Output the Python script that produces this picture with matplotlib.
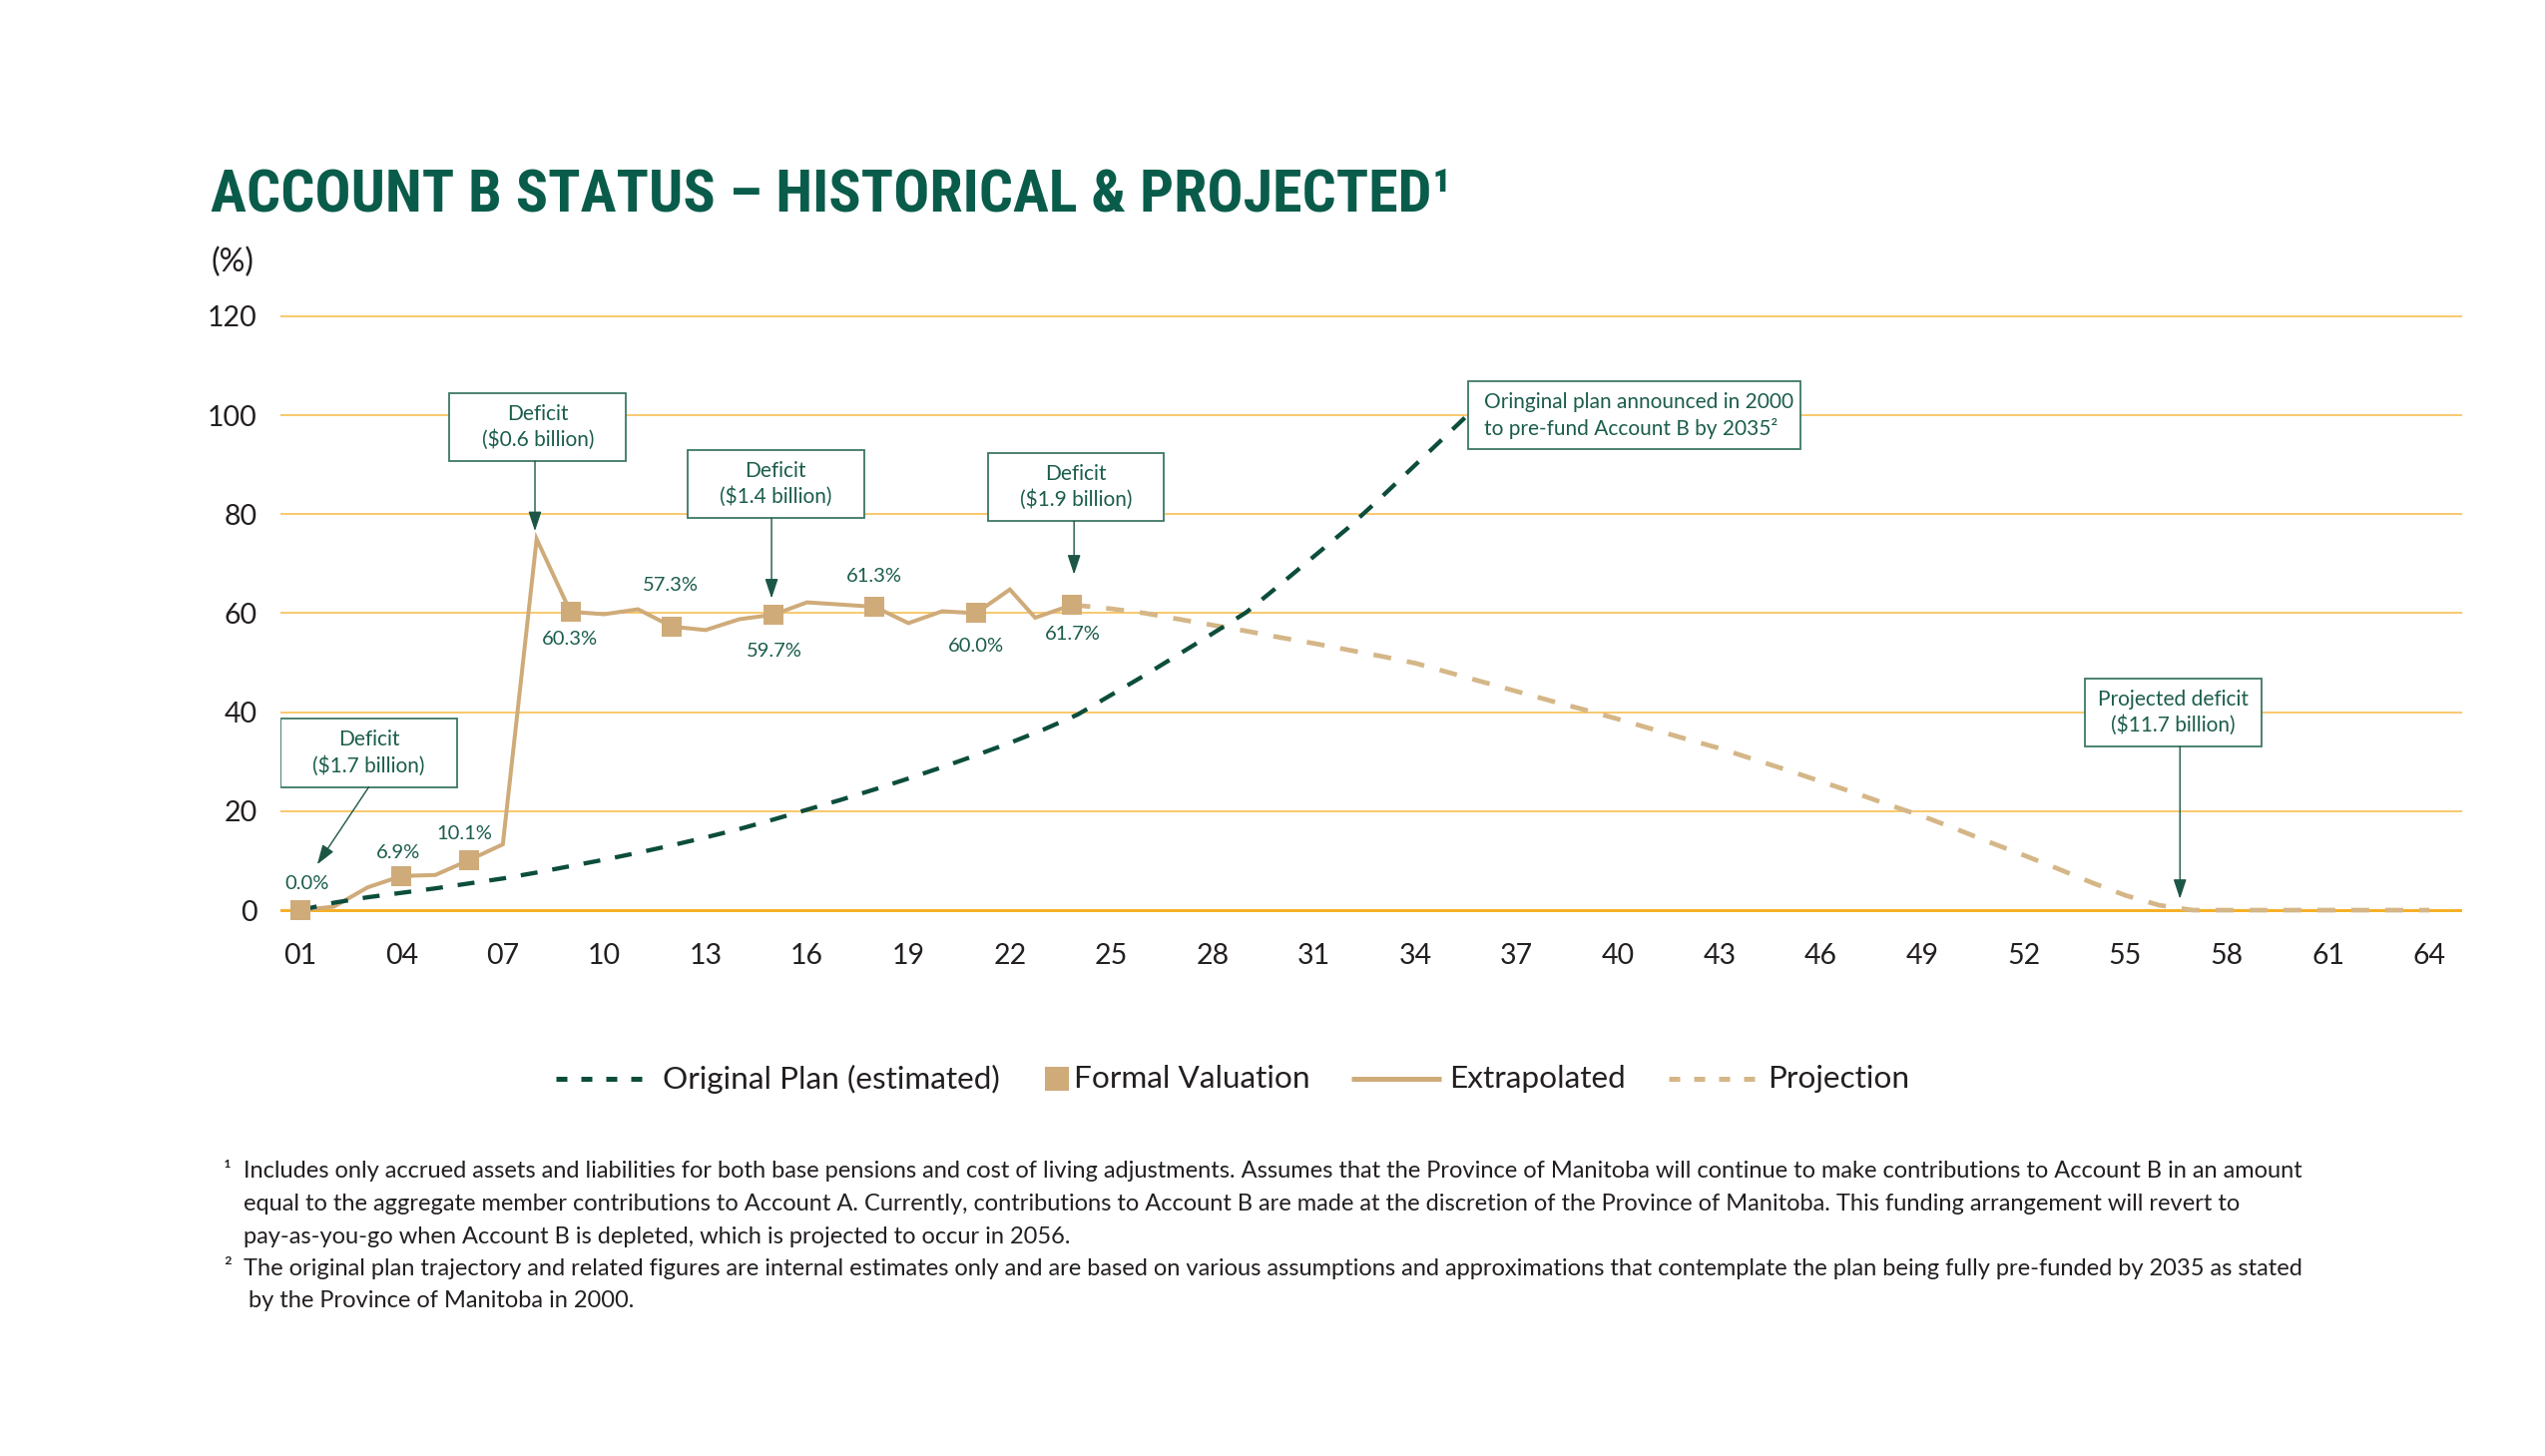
import matplotlib
matplotlib.use("Agg")
import matplotlib.pyplot as plt
from matplotlib.patches import Rectangle
from matplotlib.lines import Line2D
from matplotlib.font_manager import FontProperties, findfont, fontManager

# ---------------- data ----------------
x_ticks = [1, 4, 7, 10, 13, 16, 19, 22, 25, 28, 31, 34, 37, 40, 43, 46, 49, 52, 55, 58, 61, 64]
x_tick_labels = ["01", "04", "07", "10", "13", "16", "19", "22", "25", "28", "31",
                 "34", "37", "40", "43", "46", "49", "52", "55", "58", "61", "64"]
y_ticks = [0, 20, 40, 60, 80, 100, 120]
y_tick_labels = ["0", "20", "40", "60", "80", "100", "120"]

plan_years = [1, 2, 3, 4, 5, 6, 7, 8, 9, 10, 11, 12, 13, 14, 15, 16, 17, 18,
              19, 20, 21, 22, 23, 24, 25, 26, 27, 28, 29, 30, 31, 32, 33, 34, 35, 36]
plan_values = [0.0, 1.5, 2.6, 3.5, 4.4, 5.4, 6.4, 7.6, 8.9, 10.2, 11.6, 13.1, 14.7, 16.4,
               18.3, 20.3, 22.3, 24.4, 26.6, 28.9, 31.3, 33.8, 36.5, 39.5, 43.5, 47.5,
               51.7, 55.9, 60.2, 65.8, 71.5, 77.2, 83.5, 90.0, 96.5, 103.0]

extrap_years = [1, 2, 3, 4, 5, 6, 7, 8, 9, 10, 11, 12, 13, 14, 15, 16, 18, 19, 20, 21,
                22, 22.75, 23.85]
extrap_values = [0.0, 0.7, 4.6, 6.9, 7.1, 10.1, 13.3, 75.0, 60.3, 59.8, 60.8, 57.3, 56.6,
                 58.8, 59.7, 62.2, 61.3, 58.0, 60.4, 60.0, 64.8, 59.1, 61.7]

valuation_years = [1, 4, 6, 9, 12, 15, 18, 21, 23.85]
valuation_values = [0.0, 6.9, 10.1, 60.3, 57.3, 59.7, 61.3, 60.0, 61.7]

proj_years = [23.85, 25, 26, 27, 28, 29, 30, 31, 32, 33, 34, 35, 36, 37, 38, 39, 40, 41,
              42, 43, 44, 45, 46, 47, 48, 49, 50, 51, 52, 53, 54, 55, 56, 57, 58, 59,
              60, 61, 62, 63, 64]
proj_values = [61.7, 60.9, 60.0, 58.8, 57.6, 56.4, 55.1, 53.9, 52.6, 51.3, 49.9, 48.0,
               46.1, 44.2, 42.3, 40.5, 38.6, 36.6, 34.6, 32.7, 30.5, 28.3, 26.0, 23.7,
               21.3, 19.0, 16.4, 13.7, 11.1, 8.4, 5.6, 3.0, 1.0, 0.0, 0.0, 0.0, 0.0,
               0.0, 0.0, 0.0, 0.0]

callout_texts = ["Deficit\n($1.7 billion)", "Deficit\n($0.6 billion)",
                 "Deficit\n($1.4 billion)", "Deficit\n($1.9 billion)",
                 "Projected deficit\n($11.7 billion)"]
plan_note = "Oringinal plan announced in 2000\nto pre-fund Account B by 2035\u00b2"

legend_labels = ["Original Plan (estimated)", "Formal Valuation", "Extrapolated", "Projection"]

title_text = "ACCOUNT B STATUS \u2013 HISTORICAL & PROJECTED\u00b9"
footnote_lines = [
    "Includes only accrued assets and liabilities for both base pensions and cost of living adjustments. Assumes that the Province of Manitoba will continue to make contributions to Account B in an amount",
    "equal to the aggregate member contributions to Account A. Currently, contributions to Account B are made at the discretion of the Province of Manitoba. This funding arrangement will revert to",
    "pay-as-you-go when Account B is depleted, which is projected to occur in 2056.",
    "The original plan trajectory and related figures are internal estimates only and are based on various assumptions and approximations that contemplate the plan being fully pre-funded by 2035 as stated",
    "by the Province of Manitoba in 2000.",
]

# ---------------- style ----------------
W, H, DPI = 2550, 1459, 100
PT = DPI / 72.0  # px per point

GREEN = "#0c4d3c"
TITLE_GREEN = "#0a5c4a"
LABEL_GREEN = "#1b5d4c"
BOX_EDGE = "#3d7766"
ARROW = "#1c5646"
TAN = "#cfab7a"
TAN_PROJ = "#d5b687"
GRID = "#f8c86e"
ZERO = "#f6ae22"
INK = "#231f20"


def has_font(name):
    try:
        findfont(FontProperties(family=name), fallback_to_default=False)
        return True
    except Exception:
        return False


def condensed_bold_font():
    """Look for an installed condensed / narrow bold sans face for the title."""
    prefs = ["Roboto Condensed", "Liberation Sans Narrow", "DejaVu Sans",
             "Open Sans Condensed", "Noto Sans"]
    cands = []
    for f in fontManager.ttflist:
        narrow = ("Condensed" in f.name or "Narrow" in f.name
                  or str(f.stretch) in ("condensed", "semi-condensed", "extra-condensed")
                  or "Condensed" in f.fname or "Narrow" in f.fname)
        try:
            wt = int(f.weight)
        except Exception:
            wt = 700 if "bold" in str(f.weight).lower() else 400
        if narrow and wt >= 600 and f.style == "normal" and "Mono" not in f.name \
                and "Serif" not in f.name:
            rank = next((i for i, p in enumerate(prefs) if p in f.name), len(prefs))
            cands.append((rank, abs(wt - 700), f.fname))
    if cands:
        cands.sort()
        return FontProperties(fname=cands[0][2])
    fam = ["Liberation Sans Narrow", "DejaVu Sans"] if has_font("Liberation Sans Narrow") \
        else ["DejaVu Sans"]
    return FontProperties(family=fam, weight="bold")


BODY = ["Lato", "DejaVu Sans"] if has_font("Lato") else ["DejaVu Sans"]
plt.rcParams["font.family"] = BODY
title_fp = condensed_bold_font()

fig = plt.figure(figsize=(W / DPI, H / DPI), dpi=DPI, facecolor="white")
renderer = fig.canvas.get_renderer()


def fx(px):
    return px / W


def fy(py):
    return 1 - py / H


def fit(t, target_px):
    w = t.get_window_extent(renderer).width
    t.set_fontsize(t.get_fontsize() * target_px / w)
    return t.get_fontsize()


# axes: x 281..2467 px, y 312..926.9 px
ax = fig.add_axes([fx(281), fy(926.9), (2467 - 281) / W, (926.9 - 312.0) / H])
ax.set_xlim(0.42, 64.97)
ax.set_ylim(-3, 121)
for s in ax.spines.values():
    s.set_visible(False)
ax.set_xticks(x_ticks)
ax.set_xticklabels(x_tick_labels)
ax.set_yticks(y_ticks)
ax.set_yticklabels(y_tick_labels)
ax.tick_params(axis="both", length=0, labelsize=20.5, labelcolor=INK)
ax.tick_params(axis="x", pad=13)
ax.tick_params(axis="y", pad=17)
for v in y_ticks:
    if v == 0:
        ax.axhline(v, color=ZERO, lw=2.1, zorder=1.2)
    else:
        ax.axhline(v, color=GRID, lw=1.4, zorder=1)

# series
lw_plan = 4.3
ax.plot(plan_years, plan_values, color=GREEN, lw=lw_plan / PT,
        dashes=(17 / lw_plan, 15 / lw_plan), zorder=3, dash_capstyle="butt")
lw_proj = 4.7
ax.plot(proj_years, proj_values, color=TAN_PROJ, lw=lw_proj / PT,
        dashes=(18 / lw_proj, 16 / lw_proj), zorder=2.6, dash_capstyle="butt")
ax.plot(extrap_years, extrap_values, color=TAN, lw=4.0 / PT, zorder=2.8,
        solid_joinstyle="miter")
ax.plot(valuation_years, valuation_values, ls="none", marker="s", ms=20 / PT,
        color=TAN, mew=0, zorder=4)

# value labels
label_offsets = [(7, 27), (-3, 23.5), (-5, 26), (-1, -27), (-1, 41.5), (1, -37),
                 (-0.5, 30.5), (-0.5, -33.5), (0.5, -29)]
for yr, val, off in zip(valuation_years, valuation_values, label_offsets):
    ax.annotate(f"{val:.1f}%", xy=(yr, val), xytext=off, textcoords="offset pixels",
                ha="center", va="center", fontsize=14.5, color=LABEL_GREEN, zorder=6)

# callout boxes (center x, center y, width, height in data units)
box_w, box_h = 5.22, 13.8
callout_centers = [(3.04, 31.78), (8.035, 97.62), (15.07, 86.1), (23.955, 85.5),
                   (56.43, 39.98)]
arrow_tips = [(1.508, 9.24), (7.95, 76.6), (14.95, 63.0), (23.90, 67.83), (56.62, 2.28)]
arrow_starts_x = [3.034, 7.95, 14.95, 23.90, 56.62]

callout_font = 15
for txt, (cx, cy) in zip(callout_texts, callout_centers):
    ax.add_patch(Rectangle((cx - box_w / 2, cy - box_h / 2), box_w, box_h,
                           facecolor="white", edgecolor=BOX_EDGE, lw=1.3, zorder=5))
    ax.text(cx, cy, txt, ha="center", va="center", multialignment="center",
            fontsize=callout_font, color=LABEL_GREEN, linespacing=1.35, zorder=6)
for (cx, cy), sx, tip in zip(callout_centers, arrow_starts_x, arrow_tips):
    ax.annotate("", xy=tip, xytext=(sx, cy - box_h / 2),
                arrowprops=dict(arrowstyle="-|>,head_length=0.6,head_width=0.2",
                                color=ARROW, lw=1.0, shrinkA=0, shrinkB=0,
                                mutation_scale=20), zorder=6)

# plan note box
ax.add_patch(Rectangle((35.56, 93.08), 9.82, 13.72, facecolor="white",
                       edgecolor=BOX_EDGE, lw=1.3, zorder=5))
ax.text(36.02, 99.94, plan_note, ha="left", va="center", fontsize=callout_font,
        color=LABEL_GREEN, linespacing=1.35, zorder=6)

# y unit label
t = fig.text(fx(211.7), fy(263), "(%)", ha="left", va="center", fontsize=19, color=INK)
fit(t, 43)

# title
t = fig.text(fx(211), fy(211.7), title_text, ha="left", va="baseline",
             fontproperties=title_fp, color=TITLE_GREEN)
t.set_fontsize(40)
fs_title = fit(t, 1241)
if fs_title > 44:
    t.set_fontsize(44)

# legend (manual, figure pixel positions)
ly = fy(1081)
leg_fs = 20
t0 = fig.text(fx(664), ly, legend_labels[0], ha="left", va="center", fontsize=leg_fs, color=INK)
leg_fs = fit(t0, 338)
for x, lab in zip([1076, 1452, 1771], legend_labels[1:]):
    fig.text(fx(x), ly, lab, ha="left", va="center", fontsize=leg_fs, color=INK)
lwl = 5.0
fig.add_artist(Line2D([fx(557), fx(645)], [ly, ly], transform=fig.transFigure,
                      color=GREEN, lw=lwl / PT, dashes=(11 / lwl, 14 / lwl),
                      dash_capstyle="butt"))
fig.add_artist(Line2D([fx(1059)], [ly], transform=fig.transFigure, ls="none",
                      marker="s", ms=24 / PT, color=TAN, mew=0))
fig.add_artist(Line2D([fx(1354), fx(1444)], [ly, ly], transform=fig.transFigure,
                      color=TAN, lw=lwl / PT, solid_capstyle="butt"))
fig.add_artist(Line2D([fx(1672), fx(1761)], [ly, ly], transform=fig.transFigure,
                      color=TAN_PROJ, lw=lwl / PT, dashes=(11 / lwl, 14 / lwl),
                      dash_capstyle="butt"))

# footnotes
foot_y = [1174, 1206.5, 1239, 1271.5, 1304]
foot_x = [244, 244, 244, 244, 249]
t = fig.text(fx(foot_x[0]), fy(foot_y[0]), footnote_lines[0], ha="left", va="center",
             fontsize=15, color=INK)
foot_fs = fit(t, 2074)
for x, y, line in zip(foot_x[1:], foot_y[1:], footnote_lines[1:]):
    fig.text(fx(x), fy(y), line, ha="left", va="center", fontsize=foot_fs, color=INK)
fig.text(fx(224), fy(foot_y[0]), "\u00b9", ha="left", va="center", fontsize=foot_fs, color=INK)
fig.text(fx(224), fy(foot_y[3]), "\u00b2", ha="left", va="center", fontsize=foot_fs, color=INK)

fig.savefig("out.png", dpi=DPI, facecolor="white")
